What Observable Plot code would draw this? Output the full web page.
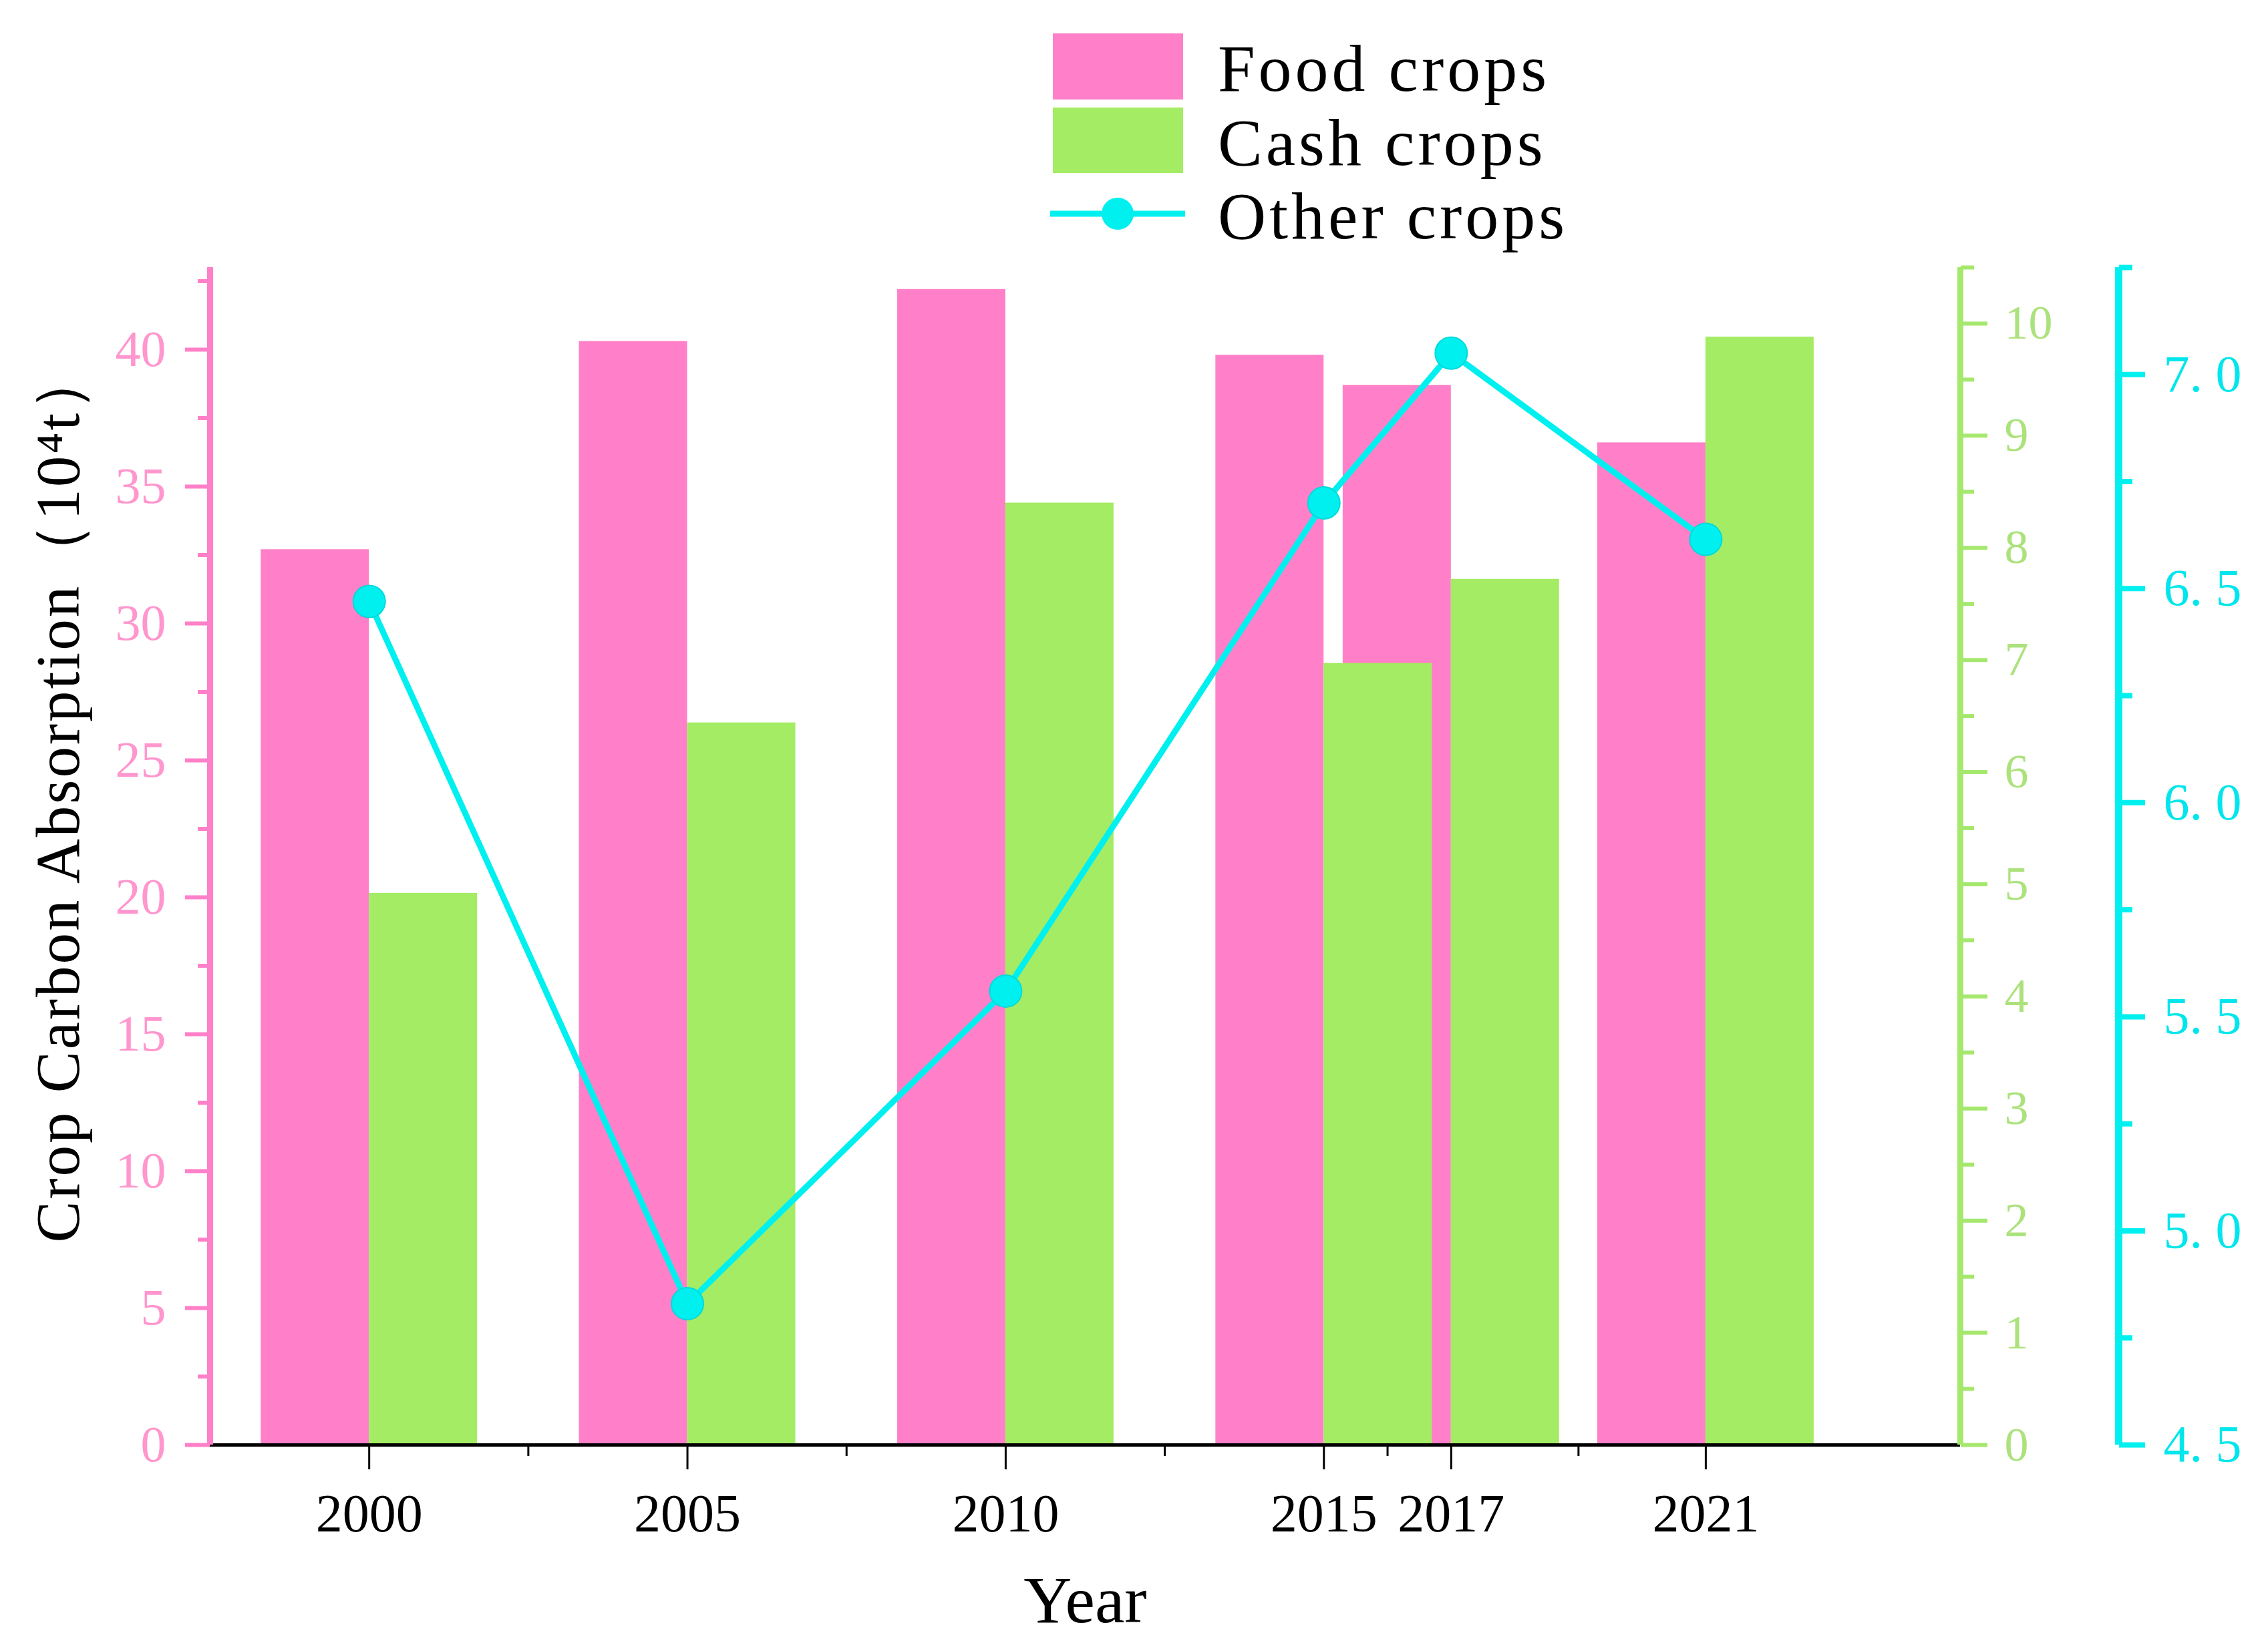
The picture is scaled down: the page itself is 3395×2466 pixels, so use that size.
<!DOCTYPE html>
<html>
<head>
<meta charset="utf-8">
<script src="https://cdn.jsdelivr.net/npm/d3@7"></script>
<script src="https://cdn.jsdelivr.net/npm/@observablehq/plot@0.6"></script>
<style>
  html, body { margin: 0; padding: 0; background: #ffffff; }
  #chart { width: 3395px; }
  #chart svg { display: block; }
</style>
</head>
<body>
<div id="chart"></div>
<script>
// ---- data ----
const years = [2000, 2005, 2010, 2015, 2017, 2021];
const foodCrops = [32.7, 40.3, 42.2, 39.8, 38.7, 36.6];      // left axis (10^4 t)
const cashCrops = [4.92, 6.44, 8.40, 6.97, 7.72, 9.88];      // green right axis
const otherCrops = [6.47, 4.83, 5.56, 6.70, 7.05, 6.615];    // cyan right axis
const seriesNames = ["Food crops", "Cash crops", "Other crops"];

const yearTicks = [2000, 2005, 2010, 2015, 2017, 2021];
const yearMinorTicks = [2002.5, 2007.5, 2012.5, 2016, 2019];
const leftTicks = [0, 5, 10, 15, 20, 25, 30, 35, 40];
const leftMinorTicks = [2.5, 7.5, 12.5, 17.5, 22.5, 27.5, 32.5, 37.5, 42.5];
const cashTicks = [0, 1, 2, 3, 4, 5, 6, 7, 8, 9, 10];
const cashMinorTicks = [0.5, 1.5, 2.5, 3.5, 4.5, 5.5, 6.5, 7.5, 8.5, 9.5, 10.5];
const otherTicks = [4.5, 5.0, 5.5, 6.0, 6.5, 7.0];
const otherMinorTicks = [4.75, 5.25, 5.75, 6.25, 6.75, 7.25];

const xDomain = [1997.5, 2025];
const leftDomain = [0, 43];
const cashDomain = [0, 10.5];
const otherDomain = [4.5, 7.25];

const xTitle = "Year";
const yTitle = "Crop Carbon Absorption\uFF0810\u2074t\uFF09";

// ---- styles ----
const PINK = "#FF80C8", PINK_TXT = "#FF96CE";
const GREEN = "#A4EC64", GREEN_AX = "#A6E86E", GREEN_TXT = "#ACE27C";
const CYAN = "#00F0F0", CYAN_TXT = "#00E6EC";
const SERIF = "Liberation Serif, Times New Roman, serif";
const barW = 1.7;

// map secondary axes into the primary y scale
const lin = (d0, d1) => v => (v - d0[0]) / (d0[1] - d0[0]) * (d1[1] - d1[0]) + d1[0];
const cashToY = lin(cashDomain, leftDomain), yToCash = lin(leftDomain, cashDomain);
const otherToY = lin(otherDomain, leftDomain), yToOther = lin(leftDomain, otherDomain);

const rows = years.map((year, i) => ({year, food: foodCrops[i], cash: cashCrops[i], other: otherCrops[i]}));

// ---- legend ----
const legend = d3.select("#chart").append("svg").attr("width", 3395).attr("height", 390);
legend.append("rect").attr("x", 1576).attr("y", 50).attr("width", 195).attr("height", 99).attr("fill", PINK);
legend.append("rect").attr("x", 1576).attr("y", 161).attr("width", 195).attr("height", 98).attr("fill", GREEN);
legend.append("line").attr("x1", 1572).attr("x2", 1774).attr("y1", 320).attr("y2", 320)
  .attr("stroke", CYAN).attr("stroke-width", 9);
legend.append("circle").attr("cx", 1673).attr("cy", 320).attr("r", 24).attr("fill", CYAN);
const baselines = [136, 247, 357];
seriesNames.forEach((name, i) => {
  legend.append("text").attr("x", 1823).attr("y", baselines[i])
    .attr("font-family", SERIF).attr("font-size", 100).attr("letter-spacing", 5)
    .attr("fill", "#000").text(name);
});

// ---- chart ----
const chart = Plot.plot({
  width: 3395,
  height: 2076,
  marginTop: 10,
  marginBottom: 303,
  marginLeft: 314,
  marginRight: 461,
  style: {background: "white", overflow: "visible"},
  x: {type: "linear", domain: xDomain},
  y: {domain: leftDomain},
  marks: [
    Plot.rect(rows, {x1: d => d.year - barW, x2: "year", y1: 0, y2: "food", fill: PINK}),
    Plot.rect(rows, {x1: "year", x2: d => d.year + barW, y1: 0, y2: d => cashToY(d.cash), fill: GREEN}),
    Plot.ruleY([0], {stroke: "black", strokeWidth: 5}),
    // x axis
    Plot.axisX({ticks: yearTicks, tickSize: 37, tickPadding: 36, stroke: "black", strokeWidth: 3,
      fill: "black", fontSize: 80, fontFamily: SERIF, label: null, tickFormat: d => String(d)}),
    Plot.axisX({ticks: yearMinorTicks, tickSize: 17, stroke: "black", strokeWidth: 3,
      tickFormat: () => "", label: null}),
    Plot.text([xTitle], {text: d => d, frameAnchor: "bottom", dy: 265, lineAnchor: "bottom",
      fontSize: 100, fontFamily: SERIF, fill: "black"}),
    // left axis
    Plot.ruleX([xDomain[0]], {stroke: PINK, strokeWidth: 9}),
    Plot.axisY({ticks: leftTicks, tickSize: 37, tickPadding: 29, stroke: PINK, strokeWidth: 6,
      fill: PINK_TXT, fontSize: 76, fontFamily: SERIF, label: null, tickFormat: d => String(d)}),
    Plot.axisY({ticks: leftMinorTicks, tickSize: 18, stroke: PINK, strokeWidth: 6,
      tickFormat: () => "", label: null}),
    Plot.text([yTitle], {text: d => d, frameAnchor: "left", rotate: -90, dx: -226, dy: -92,
      fontSize: 93, fontFamily: SERIF, fill: "black", textAnchor: "middle", className: "ytitle"}),
    // green (cash) axis
    Plot.ruleX([xDomain[1]], {stroke: GREEN_AX, strokeWidth: 9}),
    Plot.axisY({anchor: "right", ticks: cashTicks.map(cashToY), tickSize: 40, tickPadding: 26,
      stroke: GREEN_AX, strokeWidth: 6, fill: GREEN_TXT, fontSize: 72, fontFamily: SERIF, label: null,
      tickFormat: d => String(Math.round(yToCash(d) * 100) / 100)}),
    Plot.axisY({anchor: "right", ticks: cashMinorTicks.map(cashToY), tickSize: 20,
      stroke: GREEN_AX, strokeWidth: 6, tickFormat: () => "", label: null}),
    // cyan (other) axis
    Plot.ruleX([xDomain[1]], {dx: 237, stroke: CYAN, strokeWidth: 11}),
    Plot.axisY({anchor: "right", dx: 237, ticks: otherTicks.map(otherToY), tickSize: 39, tickPadding: 28,
      stroke: CYAN, strokeWidth: 8, fill: CYAN_TXT, fontSize: 78, fontFamily: SERIF, label: null,
      tickFormat: d => (Math.round(yToOther(d) * 100) / 100).toFixed(1).replace(".", ". ")}),
    Plot.axisY({anchor: "right", dx: 237, ticks: otherMinorTicks.map(otherToY), tickSize: 20,
      stroke: CYAN, strokeWidth: 8, tickFormat: () => "", label: null}),
    // other crops line
    Plot.line(rows, {x: "year", y: d => otherToY(d.other), stroke: CYAN, strokeWidth: 9}),
    Plot.dot(rows, {x: "year", y: d => otherToY(d.other), r: 24, fill: CYAN, stroke: "#00DADA", strokeWidth: 2})
  ]
});
d3.select(chart).selectAll(".ytitle text").attr("letter-spacing", 3);
document.getElementById("chart").appendChild(chart);
</script>
</body>
</html>
